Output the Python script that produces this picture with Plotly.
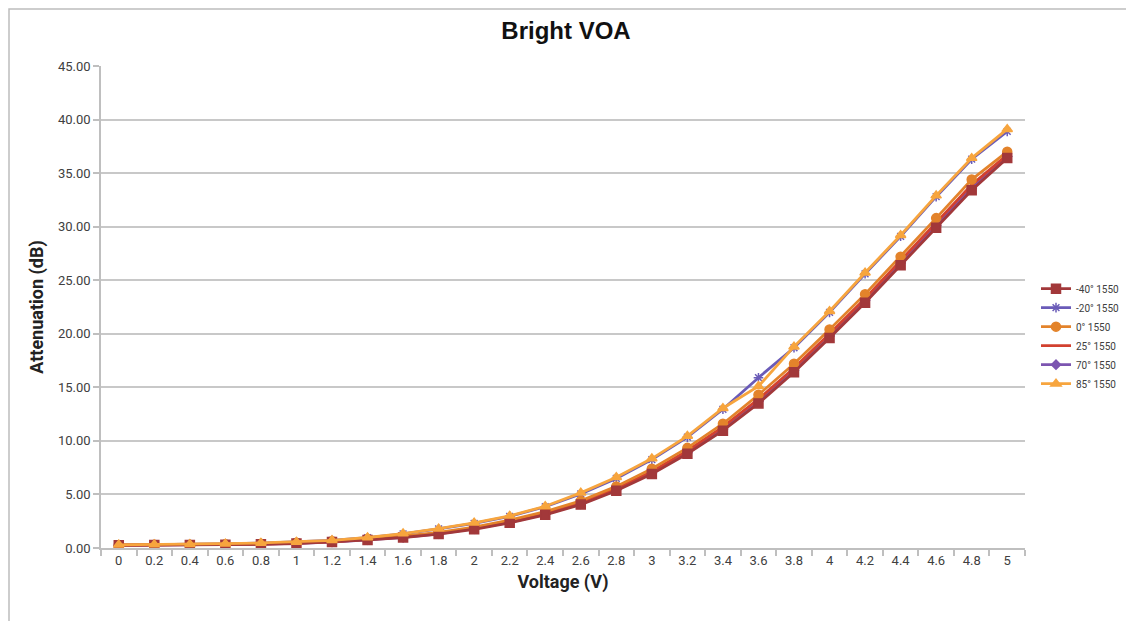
import plotly.graph_objects as go

voltage = ["0", "0.2", "0.4", "0.6", "0.8", "1", "1.2", "1.4", "1.6", "1.8", "2", "2.2", "2.4",
           "2.6", "2.8", "3", "3.2", "3.4", "3.6", "3.8", "4", "4.2", "4.4", "4.6", "4.8", "5"]

att_m40 = [0.25, 0.27, 0.28, 0.30, 0.35, 0.42, 0.55, 0.75, 0.98, 1.30, 1.75, 2.35, 3.10,
           4.05, 5.35, 6.90, 8.80, 10.95, 13.50, 16.40, 19.60, 22.90, 26.40, 29.90, 33.40, 36.40]
att_m20 = [0.30, 0.32, 0.34, 0.39, 0.46, 0.56, 0.71, 0.96, 1.32, 1.78, 2.30, 2.95, 3.85,
           5.05, 6.50, 8.25, 10.35, 12.95, 15.90, 18.70, 22.00, 25.60, 29.10, 32.80, 36.30, 38.90]
att_0 = [0.28, 0.30, 0.31, 0.34, 0.40, 0.48, 0.62, 0.84, 1.10, 1.45, 1.95, 2.60, 3.40,
         4.40, 5.75, 7.40, 9.35, 11.60, 14.30, 17.20, 20.40, 23.70, 27.20, 30.80, 34.40, 37.00]
att_25 = [0.26, 0.28, 0.29, 0.32, 0.37, 0.45, 0.58, 0.80, 1.04, 1.38, 1.85, 2.48, 3.25,
          4.22, 5.55, 7.15, 9.08, 11.30, 13.90, 16.80, 20.00, 23.30, 26.80, 30.40, 33.90, 36.70]
att_70 = [0.25, 0.27, 0.29, 0.31, 0.36, 0.43, 0.56, 0.77, 1.00, 1.33, 1.80, 2.40, 3.15,
          4.12, 5.45, 7.00, 8.90, 11.10, 13.70, 16.60, 19.80, 23.10, 26.60, 30.10, 33.60, 36.55]
att_85 = [0.30, 0.32, 0.35, 0.40, 0.47, 0.57, 0.72, 0.98, 1.35, 1.80, 2.35, 3.00, 3.90,
          5.15, 6.60, 8.35, 10.45, 13.05, 15.10, 18.80, 22.10, 25.70, 29.20, 32.90, 36.40, 39.10]

# (name, values, colour, marker, marker size, legend rank); listed in drawing order
series = [
    ("70° 1550", att_70, "#7C55B0", "diamond", 7, 5),
    ("-20° 1550", att_m20, "#6A5BB8", "asterisk-open", 8, 2),
    ("25° 1550", att_25, "#D2412F", None, 0, 4),
    ("0° 1550", att_0, "#E3832B", "circle", 9, 3),
    ("-40° 1550", att_m40, "#A2383A", "square", 9, 1),
    ("85° 1550", att_85, "#F7A53E", "triangle-up", 9, 6),
]

fig = go.Figure()
for name, vals, color, sym, msize, rank in series:
    if sym is None:
        fig.add_trace(go.Scatter(x=voltage, y=vals, name=name, mode="lines", legendrank=rank,
                                 line=dict(color=color, width=2.8)))
    else:
        fig.add_trace(go.Scatter(x=voltage, y=vals, name=name, mode="lines+markers", legendrank=rank,
                                 line=dict(color=color, width=2.8),
                                 marker=dict(symbol=sym, size=msize, color=color,
                                             line=dict(color=color, width=1.5))))

# page body has an 8px default margin, so the figure is sized/offset to compensate
W, H = 1126, 613
L, T = 93, 58
R = W - (1025 - 8)
B = H - (547.7 - 8)
PW = W - L - R
PH = H - T - B

fig.update_layout(
    width=W, height=H,
    margin=dict(l=L, r=R, t=T, b=B, autoexpand=False),
    paper_bgcolor="white", plot_bgcolor="white",
    title=dict(text="<b>Bright VOA</b>", x=(566 - 8) / W, xanchor="center",
               y=1 - (31 - 8) / H, yanchor="middle",
               font=dict(family="Liberation Sans Narrow, Arial Narrow, Liberation Sans", size=24, color="#111111")),
    font=dict(family="Roboto, Noto Sans", color="#404040"),
    legend=dict(x=(1036 - 8 - L) / PW, y=(547.7 - 274) / 481.7, xanchor="left", yanchor="top",
                font=dict(size=10, color="#404040"), itemwidth=30, tracegroupgap=0,
                bgcolor="rgba(0,0,0,0)", traceorder="normal"),
    showlegend=True,
)

fig.update_xaxes(
    type="category",
    title=dict(text="<b>Voltage (V)</b>", font=dict(size=18, color="#222222"), standoff=8),
    tickfont=dict(size=13, color="#404040"),
    showline=True, linecolor="#BFBFBF", linewidth=1.5,
    ticks="outside", tickson="boundaries", ticklen=6, tickcolor="#BFBFBF", tickwidth=1.5,
    showgrid=False, range=[-0.5, 25.5],
)
fig.update_yaxes(
    title=dict(text="<b>Attenuation (dB)</b>", font=dict(size=18, color="#222222"), standoff=10),
    tickfont=dict(size=13, color="#404040"),
    range=[0, 45], dtick=5, tickformat=".2f",
    showline=True, linecolor="#BFBFBF", linewidth=1.5,
    ticks="outside", ticklen=6, tickcolor="#BFBFBF", tickwidth=1.5,
    showgrid=True, gridcolor="#C8C8C8", gridwidth=1.5, zeroline=False,
)

# outer chart frame (left and top edges visible)
fig.add_shape(type="rect", xref="paper", yref="paper",
              x0=(1 - L) / PW, x1=1.5, y0=-0.5, y1=1 + (T - 1) / PH,
              line=dict(color="#BDBDBD", width=1.5), layer="below")

fig.write_html("out.html")
